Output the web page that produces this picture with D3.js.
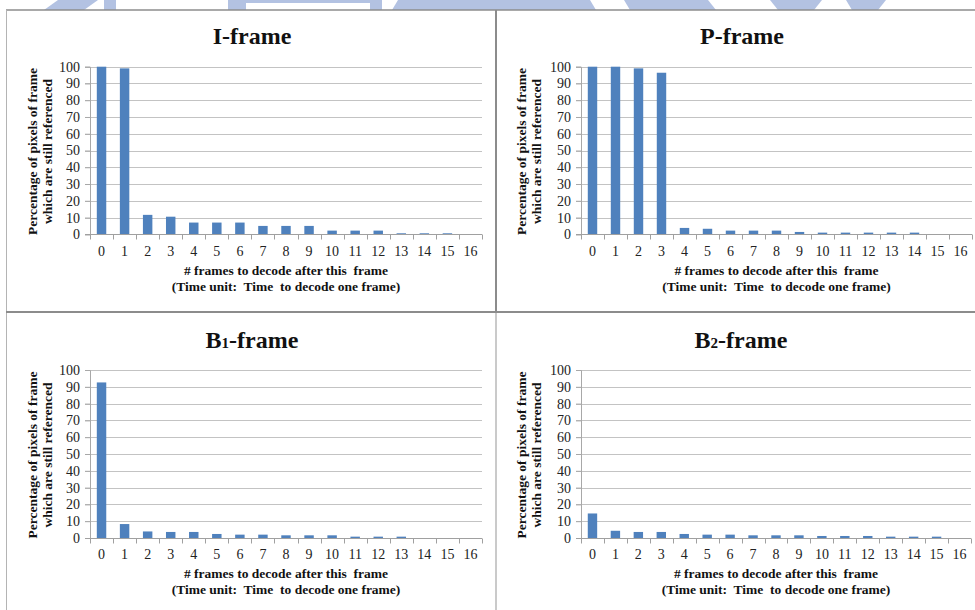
<!DOCTYPE html>
<html>
<head>
<meta charset="utf-8">
<script src="https://cdn.jsdelivr.net/npm/d3@7"></script>
<style>
  html, body { margin: 0; padding: 0; background: #fff; }
  svg { display: block; }
  text { font-family: "Liberation Serif", "Times New Roman", serif; }
</style>
</head>
<body>
<svg id="fig" width="975" height="610"></svg>
<script>
// Number of frames still to decode after the frame in question
const frameCounts = [0, 1, 2, 3, 4, 5, 6, 7, 8, 9, 10, 11, 12, 13, 14, 15, 16];
// Percentage of the frame's pixels that are still referenced
const iFrame  = [100, 99, 11.6, 10.5, 7, 7, 7, 5, 5, 5, 2.2, 2.2, 2.2, 0.6, 0.6, 0.6, 0];
const pFrame  = [100, 100, 99, 96.4, 3.8, 3.3, 2.2, 2.2, 2.2, 1.4, 1, 1, 1, 1, 1, 0, 0];
const b1Frame = [92.6, 8.3, 3.9, 3.6, 3.6, 2.4, 2.0, 2.0, 1.6, 1.6, 1.6, 0.8, 0.8, 0.8, 0, 0, 0];
const b2Frame = [14.6, 4.3, 3.6, 3.6, 2.4, 2.0, 2.0, 1.6, 1.6, 1.6, 1.2, 1.2, 1.2, 0.8, 0.8, 0.8, 0];
const yTicks  = [0, 10, 20, 30, 40, 50, 60, 70, 80, 90, 100];

const yLabelLines = ["Percentage of pixels of frame", "which are still referenced"];
const xLabelLines = ["# frames to decode after this  frame", "(Time unit:  Time  to decode one frame)"];

const BAR = "#4f81bd";
const svg = d3.select("#fig");

// faint banner shapes along the top edge
const banner = svg.append("g").attr("fill", "#b3c2e2");
[
  [[58,0],[98,0],[84,10],[44,10]],
  [[104,0],[116,0],[116,10],[104,10]],
  [[228,0],[382,0],[382,10],[228,10]],
  [[398,0],[590,0],[596,10],[392,10]],
  [[624,0],[708,0],[716,10],[630,10]],
  [[770,0],[822,0],[814,10],[778,10]],
  [[846,0],[886,0],[878,10],[852,10]]
].forEach(p => banner.append("polygon").attr("points", p.join(" ")));
banner.append("rect").attr("x", 246).attr("y", 3).attr("width", 124).attr("height", 7).attr("fill", "#fff");

// panel frame
const frame = svg.append("g").attr("fill", "none");
frame.append("line").attr("x1", 6).attr("x2", 975).attr("y1", 10).attr("y2", 10)
  .attr("stroke", "#8c8c8c").attr("stroke-width", 1.5);
frame.append("line").attr("x1", 6.5).attr("x2", 6.5).attr("y1", 10).attr("y2", 610)
  .attr("stroke", "#b4b4b4").attr("stroke-width", 1);
frame.append("line").attr("x1", 496).attr("x2", 496).attr("y1", 10).attr("y2", 312)
  .attr("stroke", "#8c8c8c").attr("stroke-width", 2);
frame.append("line").attr("x1", 496).attr("x2", 496).attr("y1", 312).attr("y2", 610)
  .attr("stroke", "#b8b8b8").attr("stroke-width", 1.5);
frame.append("line").attr("x1", 6).attr("x2", 975).attr("y1", 312).attr("y2", 312)
  .attr("stroke", "#8c8c8c").attr("stroke-width", 2);

const panels = [
  { title: ["I-frame"], values: iFrame,
    left: 90, right: 482, top: 66.7, bottom: 234.3, titleX: 252, titleY: 44,
    yLabX: 32, tickY: 256, xLabY: 275 },
  { title: ["P-frame"], values: pFrame,
    left: 581, right: 972, top: 66.7, bottom: 234.3, titleX: 742, titleY: 44,
    yLabX: 521, tickY: 256, xLabY: 275 },
  { title: ["B", "1", "-frame"], values: b1Frame,
    left: 90, right: 482, top: 370, bottom: 538, titleX: 252, titleY: 347.5,
    yLabX: 32, tickY: 559, xLabY: 578 },
  { title: ["B", "2", "-frame"], values: b2Frame,
    left: 581, right: 971, top: 370, bottom: 538, titleX: 741, titleY: 347.5,
    yLabX: 521, tickY: 559, xLabY: 578 }
];

panels.forEach(p => {
  const g = svg.append("g");
  const x = d3.scaleBand().domain(frameCounts).range([p.left, p.right]).padding(0);
  const y = d3.scaleLinear().domain([0, 100]).range([p.bottom, p.top]);
  const bw = x.bandwidth() * 0.41;

  // horizontal gridlines with short ticks to the left of the axis
  g.append("g").selectAll("line").data(yTicks.filter(t => t > 0)).join("line")
    .attr("x1", p.left - 5).attr("x2", p.right)
    .attr("y1", d => Math.round(y(d)) + 0.5).attr("y2", d => Math.round(y(d)) + 0.5)
    .attr("stroke", "#c3c3c3").attr("stroke-width", 1);

  // y axis
  const yAxis = d3.axisLeft(y).tickValues(yTicks).tickSize(5).tickPadding(5);
  const ya = g.append("g").attr("transform", `translate(${p.left},0)`).call(yAxis);
  ya.select(".domain").attr("stroke", "#a8a8a8");
  ya.selectAll(".tick line").attr("stroke", "#a8a8a8");
  ya.selectAll(".tick text").attr("font-family", "Liberation Serif")
    .attr("font-size", 14).attr("fill", "#222");

  // bars
  g.append("g").selectAll("rect").data(p.values).join("rect")
    .attr("x", (d, i) => x(frameCounts[i]) + (x.bandwidth() - bw) / 2)
    .attr("width", bw)
    .attr("y", d => y(d))
    .attr("height", d => y(0) - y(d))
    .attr("fill", BAR);

  // x axis: ticks between categories, labels centered under bars
  const base = Math.round(y(0)) + 0.5;
  g.append("line").attr("x1", p.left - 5).attr("x2", p.right).attr("y1", base).attr("y2", base)
    .attr("stroke", "#a0a0a0");
  const bounds = frameCounts.map(c => x(c)).concat([p.right]);
  g.append("g").selectAll("line").data(bounds).join("line")
    .attr("x1", d => Math.round(d) + 0.5).attr("x2", d => Math.round(d) + 0.5)
    .attr("y1", base).attr("y2", base + 5)
    .attr("stroke", "#a0a0a0");
  g.append("g").selectAll("text").data(frameCounts).join("text")
    .attr("x", d => x(d) + x.bandwidth() / 2)
    .attr("y", p.tickY)
    .attr("text-anchor", "middle")
    .attr("font-size", 14).attr("fill", "#222")
    .text(d => d);

  // title
  const t = g.append("text").attr("x", p.titleX).attr("y", p.titleY)
    .attr("text-anchor", "middle").attr("font-weight", "bold").attr("font-size", 24).attr("fill", "#111");
  t.append("tspan").text(p.title[0]);
  if (p.title.length > 1) {
    t.append("tspan").attr("font-size", 15).text(p.title[1]);
    t.append("tspan").text(p.title[2]);
  }

  // y axis title (two lines, rotated)
  const cy = (p.top + p.bottom) / 2 + 1;
  yLabelLines.forEach((line, i) => {
    g.append("text")
      .attr("transform", `translate(${p.yLabX + i * 15.5 + 4.5},${cy}) rotate(-90)`)
      .attr("text-anchor", "middle").attr("font-weight", "bold").attr("font-size", 13.5)
      .attr("fill", "#111").text(line);
  });

  // x axis title
  const cx = (p.left + p.right) / 2;
  xLabelLines.forEach((line, i) => {
    g.append("text").attr("x", cx).attr("y", p.xLabY + i * 15.5)
      .attr("text-anchor", "middle").attr("font-weight", "bold").attr("font-size", 13.5)
      .attr("fill", "#111").attr("xml:space", "preserve").style("white-space", "pre")
      .text(line);
  });
});
</script>
</body>
</html>
